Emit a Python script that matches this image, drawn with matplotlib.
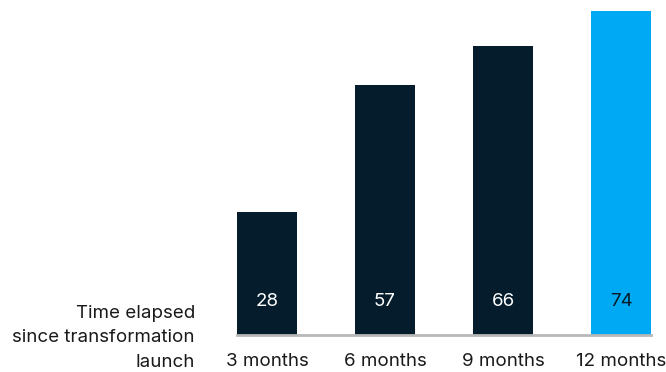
import matplotlib
matplotlib.use("Agg")
import matplotlib.pyplot as plt

categories = ["3 months", "6 months", "9 months", "12 months"]
values = [28, 57, 66, 74]
colors = ["#051C2C", "#051C2C", "#051C2C", "#00A9F4"]
label_colors = ["white", "white", "white", "#051C2C"]

plt.rcParams['font.family'] = ['Inter', 'DejaVu Sans']

W, H = 666, 372
fig = plt.figure(figsize=(W / 100, H / 100), dpi=100)
ax = fig.add_axes([237 / W, (H - 335) / H, (651 - 237) / W, (335 - 11) / H])

x = list(range(len(categories)))
ax.bar(x, values, width=0.508, color=colors, zorder=2)
ax.set_xlim(-0.254, len(categories) - 1 + 0.254)
ax.set_ylim(0, 74)

for xi, v, lc in zip(x, values, label_colors):
    ax.annotate(str(v), (xi, 0), xytext=(0, 33), textcoords="offset pixels",
                ha="center", va="center", color=lc, fontsize=13.5)

for s in ["top", "right", "left"]:
    ax.spines[s].set_visible(False)
ax.spines["bottom"].set_color("#B8B8B8")
ax.spines["bottom"].set_linewidth(2)
ax.set_yticks([])
ax.set_xticks(x)
ax.set_xticklabels(categories, fontsize=13.5, color="#1a1a1a")
ax.tick_params(axis="x", length=0, pad=13)

fig.text(195 / W, (H - 371) / H, "Time elapsed\nsince transformation\nlaunch",
         ha="right", va="bottom", fontsize=13.5, color="#1a1a1a", linespacing=1.58)

fig.savefig("out.png", dpi=100)
